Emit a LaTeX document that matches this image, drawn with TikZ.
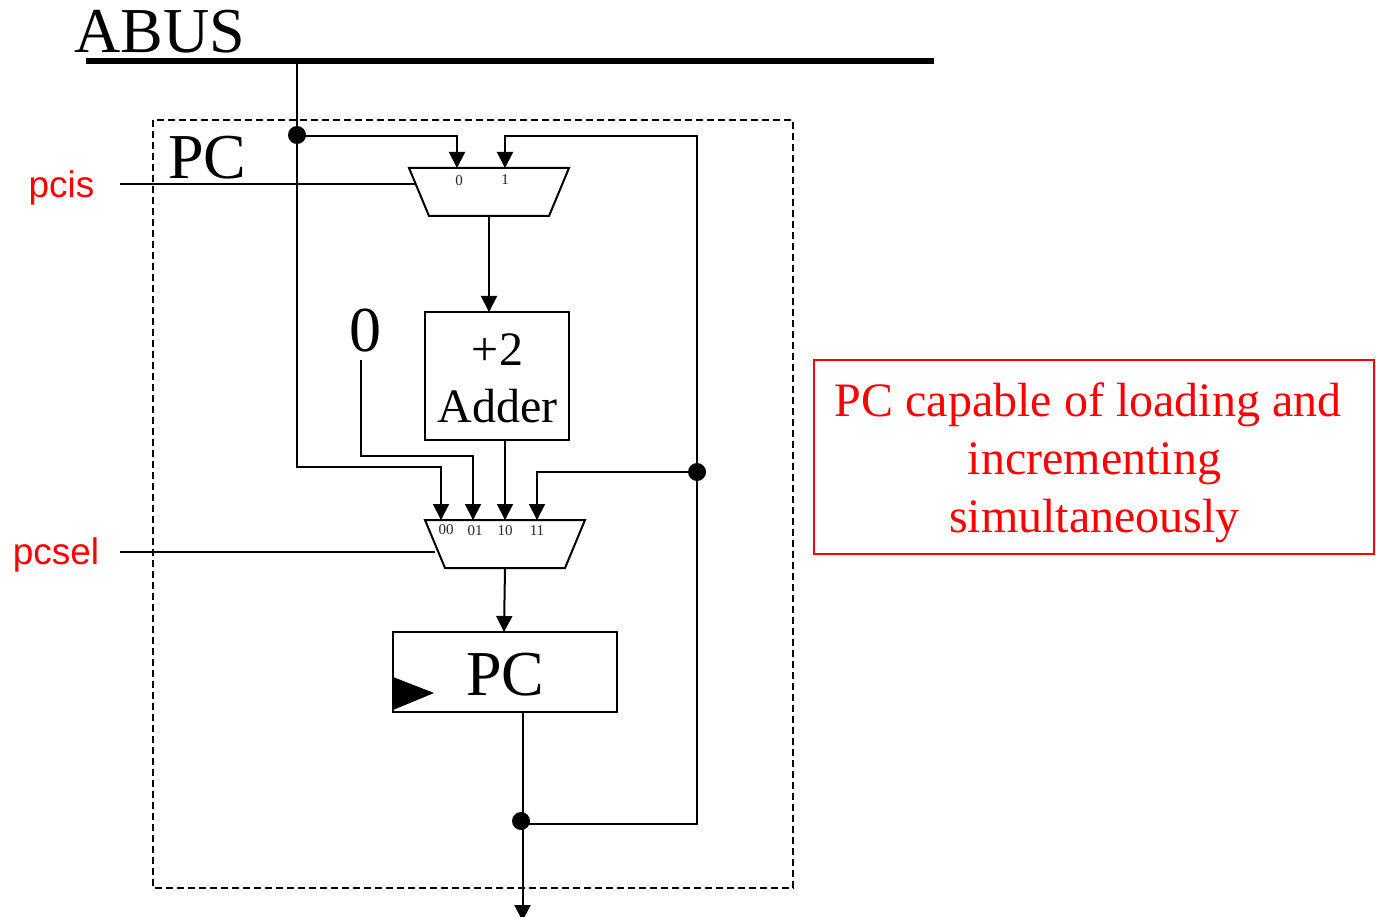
\documentclass[tikz,border=0pt]{standalone}
\usepackage{fontspec}
\setmainfont{Liberation Serif}
\newfontfamily\arialf{Liberation Sans}
\usetikzlibrary{arrows.meta,calc}
\definecolor{redtxt}{RGB}{255,0,0}
\tikzset{
  x=1pt,y=-1pt,
  wire/.style={line width=2pt,draw=black},
  arrowed/.style={wire,-{Triangle[length=16pt,width=16pt]},shorten >=0pt},
  dotmark/.style={circle,fill=black,inner sep=0pt,minimum size=18pt},
  boxnode/.style={draw=black,line width=2pt,inner sep=0pt,fill=none},
  muxshape/.style={line width=2pt,draw=black,line join=miter},
  bigtxt/.style={font=\fontsize{64}{64}\selectfont,inner sep=0pt},
  midtxt/.style={font=\fontsize{48}{57.5}\selectfont,inner sep=0pt,align=center},
  pintxt/.style={font=\fontsize{15}{15}\selectfont,inner sep=0pt,text=black!85},
  ctl/.style={font=\arialf\fontsize{37}{37}\selectfont,inner sep=0pt,text=redtxt},
}
\begin{document}
\begin{tikzpicture}
\useasboundingbox (0,0) rectangle (1376,917);
% frame
\draw[line width=2pt,dashed,dash pattern=on 7pt off 4pt] (153,120) rectangle (793,888);
% text
\node[bigtxt] (abus) at (160,32) {ABUS};
\node[bigtxt] (pclab) at (207.5,158) {PC};
\node[bigtxt] (zero) at (365,331) {0};
\node[ctl] (pcis) at (61.5,187.5) {pcis};
\node[ctl] (pcsel) at (56,555) {pcsel};
% bus
\coordinate (busL) at (86,61);
\coordinate (busR) at (934,61);
\draw[line width=6pt] (busL) -- (busR);
\coordinate (busT) at (297,61);
% boxes
\node[boxnode,minimum width=144pt,minimum height=128pt] (adder) at (497,376) {};
\node[midtxt] (adderT) at (497.5,378.5) {+2\\Adder};
\node[boxnode,minimum width=224pt,minimum height=80pt] (pcreg) at (505,672) {};
\node[bigtxt] (pcregT) at (505.5,675) {PC};
\fill (393,677) -- (434,693) -- (393,710) -- cycle;
% muxes
\coordinate (m1a) at (409,168); \coordinate (m1b) at (569,168);
\coordinate (m1c) at (549,216); \coordinate (m1d) at (429,216);
\draw[muxshape] (m1a) -- (m1b) -- (m1c) -- (m1d) -- cycle;
\coordinate (m2a) at (425,520); \coordinate (m2b) at (585,520);
\coordinate (m2c) at (565,568); \coordinate (m2d) at (445,568);
\draw[muxshape] (m2a) -- (m2b) -- (m2c) -- (m2d) -- cycle;
\node[pintxt] (p0) at (459,180.5) {0};
\node[pintxt] (p1) at (505,179.5) {1};
\node[pintxt] (q0) at (446,530) {00};
\node[pintxt] (q1) at (475,531) {01};
\node[pintxt] (q2) at (505,531) {10};
\node[pintxt] (q3) at (537,531) {11};
% junctions
\node[dotmark] (d1) at (297,135) {};
\node[dotmark] (d2) at (697,472) {};
\node[dotmark] (d3) at (521,821) {};
% pins
\coordinate (in0) at (457,168); \coordinate (in1) at (505,168);
\coordinate (s0) at (441,520); \coordinate (s1) at (473,520);
\coordinate (s2) at (505,520); \coordinate (s3) at (537,520);
\coordinate (m1out) at (489,216);
\coordinate (m2out) at (505,568);
\coordinate (addIn) at (489,312);
\coordinate (addOut) at (505,440);
\coordinate (regIn) at (504,632);
\coordinate (regOut) at (522.5,712);
\coordinate (outEnd) at (522.5,921);
\coordinate (zeroEnd) at (361,360);
\coordinate (pcisEnd) at (120,184);
\coordinate (pcisIn) at (416,184);
\coordinate (pcselEnd) at (120,552);
\coordinate (pcselIn) at (435,552);
% wires
\draw[arrowed] (busT) -- (297,467) -- (441,467) -- (s0);
\draw[arrowed] (d1.center) -- (297,136) -- (457,136) -- (in0);
\draw[arrowed] (d3.center) -- (521,824) -- (697,824) -- (697,136) -- (505,136) -- (in1);
\draw[arrowed] (d2.center) -- (537,472) -- (s3);
\draw[arrowed] (zeroEnd) -- (361,456) -- (473,456) -- (s1);
\draw[arrowed] (addOut) -- (s2);
\draw[arrowed] (m1out) -- (addIn);
\draw[arrowed] (m2out) -- (regIn);
\draw[arrowed] (regOut) -- (outEnd);
\draw[wire] (pcisEnd) -- (pcisIn);
\draw[wire] (pcselEnd) -- (pcselIn);
% note
\node[draw=redtxt,line width=2pt,minimum width=560pt,minimum height=194pt,inner sep=0pt] (notebox) at (1094,457) {};
\node[midtxt,text=redtxt,font=\fontsize{48}{58}\selectfont] (note) at (1094.5,463) {PC capable of loading and\hspace{13pt}\mbox{}\\incrementing\\simultaneously};
\end{tikzpicture}
\end{document}
